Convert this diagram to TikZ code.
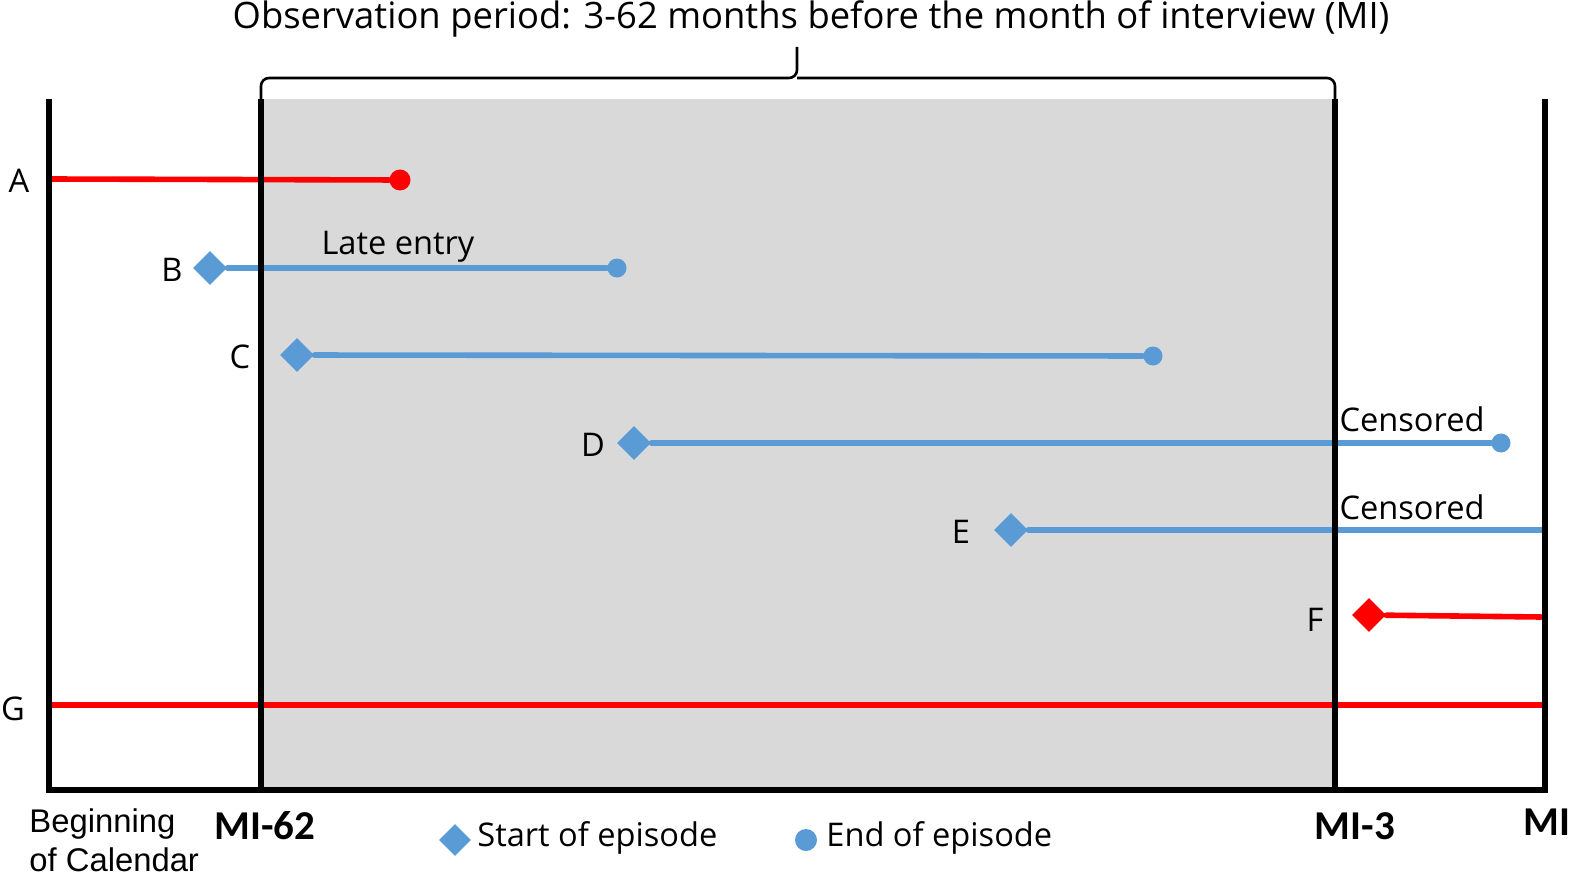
\documentclass[tikz,border=0pt]{standalone}
\usepackage{fontspec}
\setmainfont{Open Sans}
\newfontfamily\arialfont{Liberation Sans}
\newfontfamily\calibrifont{Carlito}
\usetikzlibrary{shapes.geometric}
\definecolor{epiblue}{HTML}{5B9BD5}
\definecolor{epired}{HTML}{FF0000}
\definecolor{obsgrey}{HTML}{D9D9D9}

\begin{document}
\begin{tikzpicture}[x=0.5pt, y=-0.5pt,
    calbar/.style={line width=2.6pt, black},
    episode/.style={line width=2.8pt, line cap=round},
    startmark/.style={diamond, fill, inner sep=0pt, minimum size=17pt},
    endmark/.style={circle, fill, inner sep=0pt, minimum size=9.5pt},
    lbl/.style={font=\fontsize{16.3}{19}\selectfont, inner sep=0pt},
    milbl/.style={font=\calibrifont\bfseries\fontsize{20.5}{24}\selectfont, inner sep=0pt}]
    \useasboundingbox (0,0) rectangle (1572,877);
    % observation window
    \fill[obsgrey] (261,99) rectangle (1335,790);
    \node[inner sep=0pt, font=\fontsize{18.2}{22}\selectfont] (title) at (811,19) {Observation period: 3-62 months before the month of interview (MI)};
    \draw[line width=1.3pt, rounded corners=4pt] (261,99) |- (797,78) -- (797,47);
    \draw[line width=1.3pt, rounded corners=4pt] (1335,99) |- (797,78);

    % episodes
    \coordinate (aS) at (49,179);
    \node[endmark, epired, minimum size=10.5pt] (aE) at (400,180) {};
    \draw[episode, epired] (aS) -- (aE);
    \node[lbl] (labA) at (19,181) {A};

    \node[startmark, epiblue] (bS) at (210,268) {};
    \node[endmark, epiblue] (bE) at (617,268) {};
    \draw[episode, epiblue] (bS) -- (bE);
    \node[lbl] (labB) at (172,270) {B};
    \node[lbl] (late) at (398,247) {Late entry};

    \node[startmark, epiblue] (cS) at (297,355) {};
    \node[endmark, epiblue] (cE) at (1153,356) {};
    \draw[episode, epiblue] (cS) -- (cE);
    \node[lbl] (labC) at (240,357) {C};

    \node[startmark, epiblue] (dS) at (634,443) {};
    \node[endmark, epiblue] (dE) at (1501,443) {};
    \draw[episode, epiblue] (dS) -- (dE);
    \node[lbl] (labD) at (593,445) {D};
    \node[lbl] (censD) at (1412,419) {Censored};

    \node[startmark, epiblue] (eS) at (1011,530) {};
    \coordinate (eE) at (1545,530);
    \draw[episode, epiblue] (eS) -- (eE);
    \node[lbl] (labE) at (961,532) {E};
    \node[lbl] (censE) at (1412,507) {Censored};

    \node[startmark, epired] (fS) at (1369,615) {};
    \coordinate (fE) at (1541,617);
    \draw[episode, epired] (fS) -- (fE);
    \node[lbl] (labF) at (1315,620) {F};

    \coordinate (gS) at (49,705);
    \coordinate (gE) at (1545,705);
    \draw[episode, epired] (gS) -- (gE);
    \node[lbl] (labG) at (13,709) {G};

    % calendar bars
    \draw[calbar] (49,99) -- (49,790) -- (1545,790) -- (1545,99);
    \draw[calbar] (261,99) -- (261,790);
    \draw[calbar] (1335,99) -- (1335,790);

    % bottom labels
    \node[anchor=west, align=left, inner sep=0pt,
          font=\arialfont\fontsize{16.4}{19.5}\selectfont] (begin) at (29,840) {Beginning\\of Calendar};
    \node[milbl] (mi62) at (265,826) {MI-62};
    \node[milbl] (mi3) at (1355,826) {MI-3};
    \node[milbl, anchor=west] (mi) at (1523,822) {MI};

    % legend
    \node[startmark, epiblue, minimum size=16pt] (legS) at (455,840) {};
    \node[lbl, anchor=west] (legStxt) at (477,838) {Start of episode};
    \node[endmark, epiblue, minimum size=11pt] (legE) at (806,840) {};
    \node[lbl, anchor=west] (legEtxt) at (826,838) {End of episode};
\end{tikzpicture}
\end{document}
